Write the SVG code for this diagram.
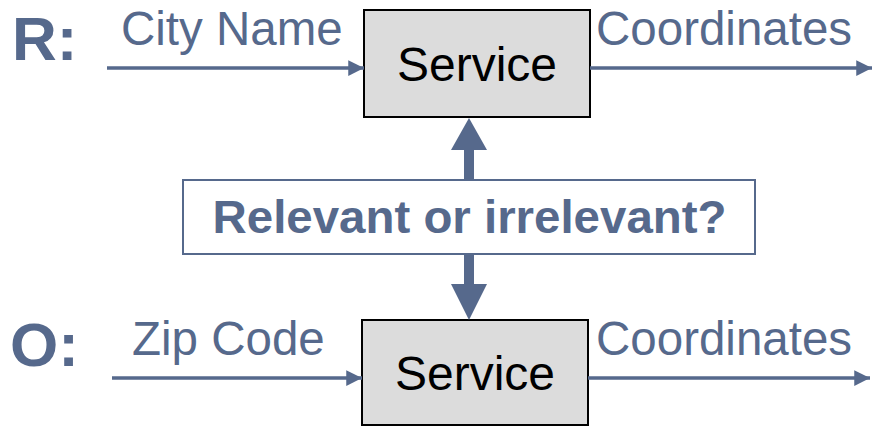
<svg xmlns="http://www.w3.org/2000/svg" width="874" height="428" viewBox="0 0 874 428">
<style>
.lbl{font-family:"Liberation Sans",Arial,sans-serif;font-size:47.5px;fill:#56698c}
.big{font-family:"Liberation Sans",Arial,sans-serif;font-size:62px;font-weight:bold;fill:#56698c}
.svc rect{fill:#dcdcdc;stroke:#000;stroke-width:2}
.svc text{font-family:"Liberation Sans",Arial,sans-serif;font-size:48px;fill:#000;text-anchor:middle}
.ln{stroke:#56698c;stroke-width:3.5;fill:none}
.hd{fill:#56698c}
</style>
<defs>
<marker id="ah" viewBox="0 0 10 10" refX="10" refY="5" markerWidth="4.5" markerHeight="4.5" orient="auto" markerUnits="strokeWidth">
<path d="M0,0 L10,5 L0,10 Z" fill="#56698c"/>
</marker>
</defs>
<text class="big" x="12" y="60">R:</text>
<text class="big" x="10" y="366">O:</text>
<text class="lbl" x="121" y="45">City Name</text>
<text class="lbl" x="596" y="45">Coordinates</text>
<text class="lbl" x="132" y="355">Zip Code</text>
<text class="lbl" x="596" y="355">Coordinates</text>
<g id="service-top" class="svc">
<rect x="364" y="10" width="226" height="107"/>
<text x="477" y="81">Service</text>
</g>
<g id="service-bottom" class="svc">
<rect x="362" y="320" width="226" height="105"/>
<text x="475" y="390">Service</text>
</g>
<g id="question">
<rect x="183" y="180" width="572" height="74" fill="#fff" stroke="#56698c" stroke-width="2"/>
<text x="469.5" y="233" text-anchor="middle" font-family="Liberation Sans, Arial, sans-serif" font-size="46" font-weight="bold" fill="#56698c" textLength="514" lengthAdjust="spacingAndGlyphs">Relevant or irrelevant?</text>
</g>
<g id="connectors">
<line class="ln" x1="107" y1="68" x2="364" y2="68" marker-end="url(#ah)"/>
<line class="ln" x1="590" y1="68" x2="872" y2="68" marker-end="url(#ah)"/>
<line class="ln" x1="112" y1="378" x2="362" y2="378" marker-end="url(#ah)"/>
<line class="ln" x1="588" y1="378" x2="870" y2="378" marker-end="url(#ah)"/>
<rect class="hd" x="464" y="148" width="10" height="32"/>
<polygon class="hd" points="451,150 487,150 469,118"/>
<rect class="hd" x="464" y="254" width="10" height="32"/>
<polygon class="hd" points="451,284 487,284 469,320"/>
</g>
</svg>
